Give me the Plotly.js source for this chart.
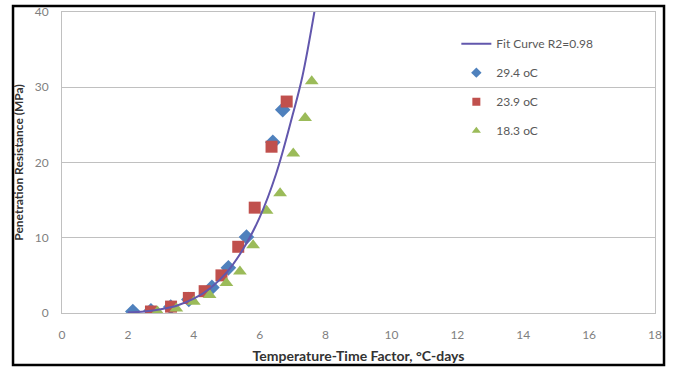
<!DOCTYPE html>
<html>
<head>
<meta charset="utf-8">
<script src="https://cdn.plot.ly/plotly-3.0.1.min.js"></script>
<style>html,body{margin:0;padding:0;background:#fff;}#chart{width:674px;height:368px;}</style>
</head>
<body>
<div id="chart"></div>
<script>
// Fit curve
const fitX = [2.0, 2.5, 3.0, 3.5, 4.0, 4.5, 5.0, 5.5, 6.0, 6.5, 7.0, 7.3, 7.7];
const fitY = [0.07, 0.2, 0.5, 1.0, 1.9, 3.3, 5.4, 8.5, 12.7, 18.5, 26.3, 31.5, 41.0];
// 29.4 oC
const s294X = [2.15, 2.7, 3.3, 3.85, 4.55, 5.05, 5.6, 6.4, 6.7];
const s294Y = [0.2, 0.3, 0.8, 1.8, 3.4, 6.0, 10.1, 22.7, 27.0];
// 23.9 oC
const s239X = [2.7, 3.31, 3.85, 4.33, 4.84, 5.35, 5.85, 6.36, 6.82];
const s239Y = [0.2, 0.85, 2.0, 2.9, 5.0, 8.8, 14.0, 22.1, 28.1];
// 18.3 oC
const s183X = [2.9, 3.47, 4.0, 4.48, 4.99, 5.4, 5.8, 6.21, 6.62, 7.02, 7.38, 7.58];
const s183Y = [0.2, 0.6, 1.5, 2.4, 4.0, 5.5, 9.0, 13.6, 15.9, 21.2, 25.9, 30.8];

const names = ['Fit Curve R2=0.98', '29.4 oC', '23.9 oC', '18.3 oC'];
const xTicks = [0, 2, 4, 6, 8, 10, 12, 14, 16, 18];
const yTicks = [0, 10, 20, 30, 40];

const cFit = '#6257ad', cBlue = '#4f81bd', cRed = '#c0504d', cGreen = '#9bbb59';
const FONT = 'Lato, "Open Sans", sans-serif';

const traces = [
  // legend-only entries
  {x:[null], y:[null], type:'scatter', mode:'lines', name:names[0], legendgroup:'a',
   line:{color:cFit, width:2}},
  {x:[null], y:[null], type:'scatter', mode:'markers', name:names[1], legendgroup:'b',
   marker:{symbol:'diamond', size:8, color:cBlue}},
  {x:[null], y:[null], type:'scatter', mode:'markers', name:names[2], legendgroup:'c',
   marker:{symbol:'square', size:8, color:cRed}},
  {x:[null], y:[null], type:'scatter', mode:'markers', name:names[3], legendgroup:'d',
   marker:{symbol:'triangle-up', size:8, color:cGreen}},
  // drawn data
  {x:s294X, y:s294Y, type:'scatter', mode:'markers', showlegend:false,
   marker:{symbol:'diamond', size:12, color:cBlue}},
  {x:s239X, y:s239Y, type:'scatter', mode:'markers', showlegend:false,
   marker:{symbol:'square', size:12, color:cRed}},
  {x:s183X, y:s183Y, type:'scatter', mode:'markers', showlegend:false,
   marker:{symbol:'triangle-up', size:12, color:cGreen}},
  {x:fitX, y:fitY, type:'scatter', mode:'lines', showlegend:false,
   line:{color:cFit, width:2, shape:'spline'}}
];

const layout = {
  width:674, height:368,
  margin:{l:62, r:19, t:12, b:55},
  paper_bgcolor:'#fff', plot_bgcolor:'#fff',
  font:{family:FONT, size:12, color:'#595959'},
  showlegend:true,
  legend:{x:0.665, y:0.943, xanchor:'left', yanchor:'top', bgcolor:'rgba(0,0,0,0)',
          font:{family:FONT, size:12, color:'#595959'}, tracegroupgap:10, traceorder:'grouped'},
  xaxis:{range:[0,18], tickvals:xTicks, ticktext:xTicks.map(String), showgrid:false, zeroline:false,
         showline:true, mirror:true, linecolor:'#c0c0c0', linewidth:1, ticks:'',
         tickfont:{family:FONT, size:12, color:'#7f7f7f'}, ticklabelstandoff:11,
         title:{text:'Temperature-Time Factor, °C-days', font:{family:FONT, size:14, color:'#333333', weight:'bold'}, standoff:9}},
  yaxis:{range:[0,40], tickvals:yTicks, ticktext:yTicks.map(String), showgrid:true, gridcolor:'#c0c0c0', gridwidth:1,
         zeroline:false, showline:true, mirror:true, linecolor:'#c0c0c0', linewidth:1, ticks:'',
         tickfont:{family:FONT, size:12, color:'#7f7f7f'}, ticklabelstandoff:10,
         title:{text:'Penetration Resistance (MPa)', font:{family:FONT, size:12, color:'#333333', weight:'bold'}, standoff:8}},
  shapes:[{type:'rect', xref:'paper', yref:'paper', x0:-0.0826, x1:1.0152, y0:-0.1728, y1:1.0199,
           line:{color:'#000', width:2.5}, fillcolor:'rgba(0,0,0,0)', layer:'above'}]
};

Plotly.newPlot('chart', traces, layout, {displayModeBar:false, staticPlot:true});
</script>
</body>
</html>
